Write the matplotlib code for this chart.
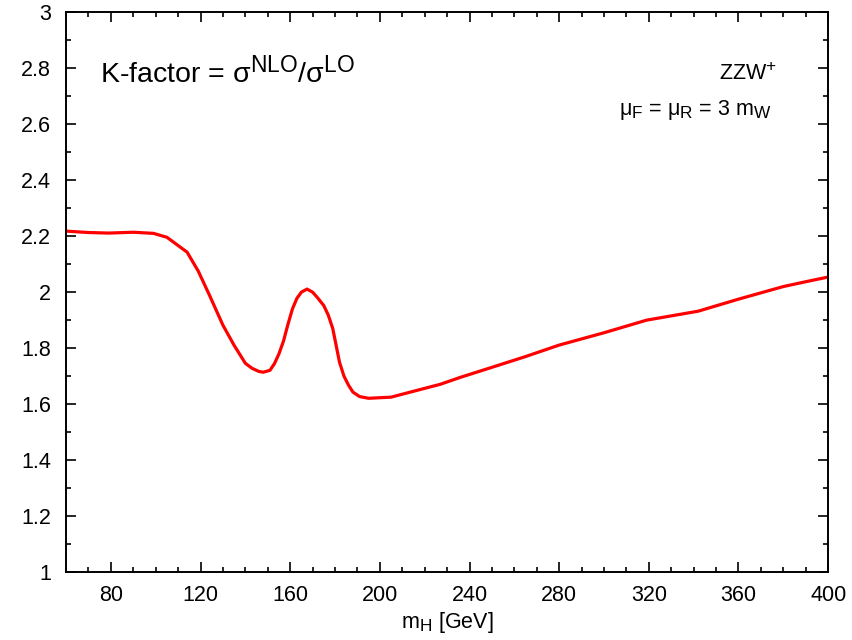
import matplotlib
matplotlib.use("Agg")
import matplotlib.pyplot as plt
from matplotlib.ticker import MultipleLocator
try:
    import matplotlib._mathtext as _mt
    _mt.SHRINK_FACTOR = 0.8
except Exception:
    pass

plt.rcParams['font.family'] = ['Liberation Sans', 'DejaVu Sans']
plt.rcParams['mathtext.default'] = 'regular'

mH = [60, 70, 79, 90, 99, 105, 114, 119, 124, 130, 135, 140, 143, 146, 148, 151, 153,
      155, 157, 159, 161, 163, 165, 167.5, 170, 172, 175, 177, 179, 180, 182, 184, 186,
      188, 191, 195, 205, 215, 227, 236, 249, 265, 280, 300, 319, 342, 360, 380, 391, 400]
K = [2.218, 2.213, 2.211, 2.214, 2.210, 2.196, 2.143, 2.075, 1.989, 1.882, 1.81, 1.746,
     1.728, 1.717, 1.714, 1.721, 1.745, 1.78, 1.825, 1.885, 1.94, 1.978, 2.0, 2.011,
     2.000, 1.982, 1.952, 1.918, 1.87, 1.83, 1.75, 1.700, 1.668, 1.643, 1.627, 1.621,
     1.625, 1.646, 1.671, 1.696, 1.729, 1.77, 1.811, 1.855, 1.900, 1.932, 1.975, 2.02,
     2.039, 2.054]

fig = plt.figure(figsize=(8.52, 6.4), dpi=100)
ax = fig.add_axes([0.0775, 0.106, 0.8945, 0.875])
ax.plot(mH, K, color='#ff0000', lw=2.3)

ax.set_xlim(60, 400)
ax.set_ylim(1, 3)
ax.set_xticks([80, 120, 160, 200, 240, 280, 320, 360, 400])
ax.xaxis.set_minor_locator(MultipleLocator(10))
ax.yaxis.set_major_locator(MultipleLocator(0.2))
ax.yaxis.set_minor_locator(MultipleLocator(0.1))
ax.set_yticks([1, 1.2, 1.4, 1.6, 1.8, 2, 2.2, 2.4, 2.6, 2.8, 3])
ax.set_yticklabels([f"{v:g}" for v in ax.get_yticks()])
ax.tick_params(which='both', direction='in', top=True, right=True, labelsize=15.5, width=1.2)
ax.tick_params(which='major', length=7)
ax.tick_params(axis='y', which='major', pad=11)
ax.tick_params(axis='x', which='major', pad=9)
ax.tick_params(which='minor', length=3.6)
for s in ax.spines.values():
    s.set_linewidth(1.4)

ax.set_xlabel('m$_{H}$ [GeV]', fontsize=15.5, labelpad=3)
ax.text(0.045, 0.873, 'K-factor = σ$^{NLO}$/σ$^{LO}$', transform=ax.transAxes,
        fontsize=20.5, ha='left', va='baseline')
ax.text(0.933, 0.879, 'ZZW$^{+}$', transform=ax.transAxes, fontsize=15.5,
        ha='right', va='baseline')
ax.text(0.926, 0.816, 'μ$_{F}$ = μ$_{R}$ = 3 m$_{W}$', transform=ax.transAxes,
        fontsize=15.5, ha='right', va='baseline')

fig.savefig('out.png', dpi=100)
